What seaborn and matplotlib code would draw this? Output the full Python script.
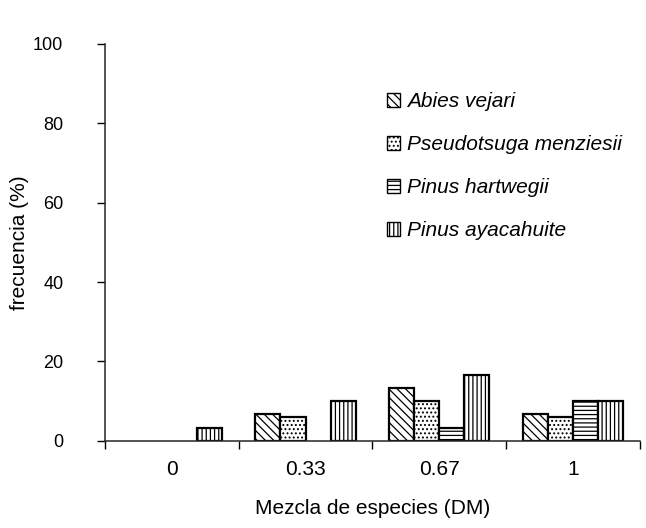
import pandas as pd
import seaborn as sns
import matplotlib.pyplot as plt
from matplotlib.patches import Patch

mezcla = ["0", "0.33", "0.67", "1"]
especies = ["Abies vejari", "Pseudotsuga menziesii", "Pinus hartwegii", "Pinus ayacahuite"]
abies = [0, 6.7, 13.3, 6.7]
pseudotsuga = [0, 6.0, 10.0, 6.0]
hartwegii = [0, 0, 3.3, 10.0]
ayacahuite = [3.3, 10.0, 16.7, 10.0]
hatches = ["\\\\\\\\", "....", "----", "||||"]

rows = []
for sp, vals in zip(especies, [abies, pseudotsuga, hartwegii, ayacahuite]):
    for m, v in zip(mezcla, vals):
        rows.append({"mezcla": m, "especie": sp, "frecuencia": v})
df = pd.DataFrame(rows)

sns.set_style("ticks")
plt.rcParams["font.family"] = ["Liberation Sans", "DejaVu Sans"]
plt.rcParams["hatch.linewidth"] = 0.9
plt.rcParams["text.color"] = "black"
plt.rcParams["axes.labelcolor"] = "black"
plt.rcParams["xtick.color"] = "black"
plt.rcParams["ytick.color"] = "black"

fig = plt.figure(figsize=(6.46, 5.28), dpi=100)
ax = fig.add_axes([0.1625, 0.165, 0.828, 0.752])

sns.barplot(data=df, x="mezcla", y="frecuencia", hue="especie", order=mezcla,
            hue_order=especies, palette=["white"] * 4, edgecolor="black",
            linewidth=1.6, width=0.75, errorbar=None, ax=ax, legend=False)

for cont, h in zip(ax.containers, hatches):
    for bar in cont:
        bar.set_hatch(h)
        if bar.get_height() == 0:
            bar.set_visible(False)

ax.set_xlim(-0.5, 3.5)
ax.set_ylim(0, 100)
ax.set_yticks([0, 20, 40, 60, 80, 100])
ax.set_xticks([0, 1, 2, 3])
ax.set_xticks([-0.5, 0.5, 1.5, 2.5, 3.5], minor=True)
ax.tick_params(axis="x", which="major", length=0, labelsize=15, pad=14)
ax.tick_params(axis="x", which="minor", length=6, width=1, direction="out")
ax.tick_params(axis="y", length=6, width=1, labelsize=13, pad=24)
ax.set_xlabel("Mezcla de especies (DM)", fontsize=15, labelpad=14)
ax.set_ylabel("frecuencia (%)", fontsize=15, labelpad=3)
sns.despine(ax=ax)
for s in ["left", "bottom"]:
    ax.spines[s].set_linewidth(1.1)

handles = [Patch(facecolor="white", edgecolor="black", linewidth=1.0, hatch=h)
           for h in hatches]
leg = ax.legend(handles, especies, loc="upper left", bbox_to_anchor=(0.492, 0.925),
                frameon=False, handlelength=0.65, handleheight=0.65, handletextpad=0.3,
                labelspacing=1.15, prop={"style": "italic", "size": 15})

fig.savefig("out.png", dpi=100)
